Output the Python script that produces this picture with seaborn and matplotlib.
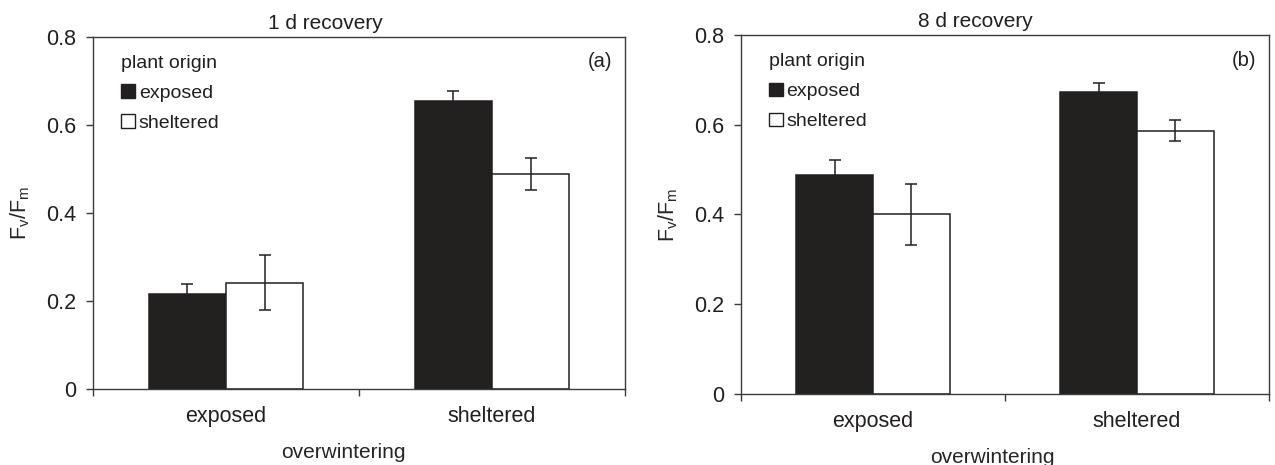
import numpy as np
import pandas as pd
import matplotlib
matplotlib.use("Agg")
import matplotlib.pyplot as plt
from matplotlib.patches import Patch
import seaborn as sns

# categories
overwintering = ["exposed", "sheltered"]
origins = ["exposed", "sheltered"]

# 1 d recovery (panel a): means and error per plant origin, ordered by overwintering
d1_exposed = [0.216, 0.655]
d1_sheltered = [0.242, 0.489]
d1_exposed_err = [0.022, 0.022]
d1_sheltered_err = [0.063, 0.037]

# 8 d recovery (panel b)
d8_exposed = [0.487, 0.673]
d8_sheltered = [0.400, 0.587]
d8_exposed_err = [0.035, 0.019]
d8_sheltered_err = [0.068, 0.023]

titles = ["1 d recovery", "8 d recovery"]
panel_tags = ["(a)", "(b)"]
y_ticks = [0, 0.2, 0.4, 0.6, 0.8]
y_tick_labels = ["0", "0.2", "0.4", "0.6", "0.8"]

DARK = "#231f20"
SPINE = "#3c3c3c"


def make_frame(exp_vals, shel_vals):
    return pd.DataFrame({
        "overwintering": overwintering * 2,
        "origin": ["exposed"] * 2 + ["sheltered"] * 2,
        "fvfm": exp_vals + shel_vals,
    })


sns.set_style("ticks")
plt.rcParams["font.family"] = ["Liberation Sans", "DejaVu Sans"]
plt.rcParams["mathtext.fontset"] = "custom"
plt.rcParams["mathtext.rm"] = "Liberation Sans"
plt.rcParams["text.color"] = DARK

fig = plt.figure(figsize=(12.75, 4.65), dpi=100)
ax_a = fig.add_axes([93 / 1275, 1 - 389 / 465, 532 / 1275, 352 / 465])
ax_b = fig.add_axes([741 / 1275, 1 - 394 / 465, 528 / 1275, 359 / 465])

panels = [
    (ax_a, make_frame(d1_exposed, d1_sheltered), [d1_exposed_err, d1_sheltered_err], 0.436, 0.47, 352),
    (ax_b, make_frame(d8_exposed, d8_sheltered), [d8_exposed_err, d8_sheltered_err], 0.443, 0.477, 359),
]

for i, (ax, df, errs, title_x, xlabel_x, ax_h) in enumerate(panels):
    sns.barplot(
        data=df,
        x="overwintering",
        y="fvfm",
        hue="origin",
        order=overwintering,
        hue_order=origins,
        palette={"exposed": DARK, "sheltered": "white"},
        width=0.58,
        errorbar=None,
        edgecolor=DARK,
        linewidth=1.1,
        legend=False,
        ax=ax,
    )

    # error bars on top of each bar
    for container, err in zip(ax.containers, errs):
        for bar, e in zip(container, err):
            xc = bar.get_x() + bar.get_width() / 2
            ax.errorbar(xc, bar.get_height(), yerr=e, fmt="none",
                        ecolor=DARK, elinewidth=1.1, capsize=4, capthick=1.1)

    ax.set_xlim(-0.5, 1.5)
    ax.set_ylim(0, 0.8)
    ax.set_yticks(y_ticks)
    ax.set_yticklabels(y_tick_labels)
    ax.set_xticks([0, 1])
    ax.set_xticklabels(overwintering)
    ax.set_xticks([-0.5, 0.5, 1.5], minor=True)
    ax.tick_params(axis="x", which="major", length=0, pad=12, labelsize=15.5, colors=DARK)
    ax.tick_params(axis="x", which="minor", length=5, width=1, color=SPINE, direction="out")
    ax.tick_params(axis="y", length=5, width=1, color=SPINE, pad=7, labelsize=15.5, labelcolor=DARK)

    for sp in ax.spines.values():
        sp.set_visible(True)
        sp.set_color(SPINE)
        sp.set_linewidth(1)

    ax.set_title(titles[i], fontsize=15, x=title_x, pad=6)
    ax.set_xlabel("overwintering", fontsize=15)
    # top of the label about 54 px under the axis
    ax.xaxis.set_label_coords(xlabel_x, -54 / ax_h)
    ax.set_ylabel(r"F$_\mathregular{v}$/F$_\mathregular{m}$", fontsize=15.5, labelpad=10)

    ax.text(0.953, 0.929, panel_tags[i], transform=ax.transAxes,
            ha="center", va="center", fontsize=14.5)

    handles = [
        Patch(facecolor=DARK, edgecolor=DARK, label="exposed"),
        Patch(facecolor="white", edgecolor=DARK, label="sheltered"),
    ]
    ax.legend(
        handles=handles,
        title="plant origin",
        loc="upper left",
        bbox_to_anchor=(0.053, 0.95),
        frameon=False,
        fontsize=14,
        title_fontsize=14,
        handlelength=0.7,
        handleheight=0.7,
        handletextpad=0.2,
        labelspacing=0.65,
        borderpad=0,
        borderaxespad=0,
        alignment="left",
    )

fig.savefig("out.png", dpi=100)
